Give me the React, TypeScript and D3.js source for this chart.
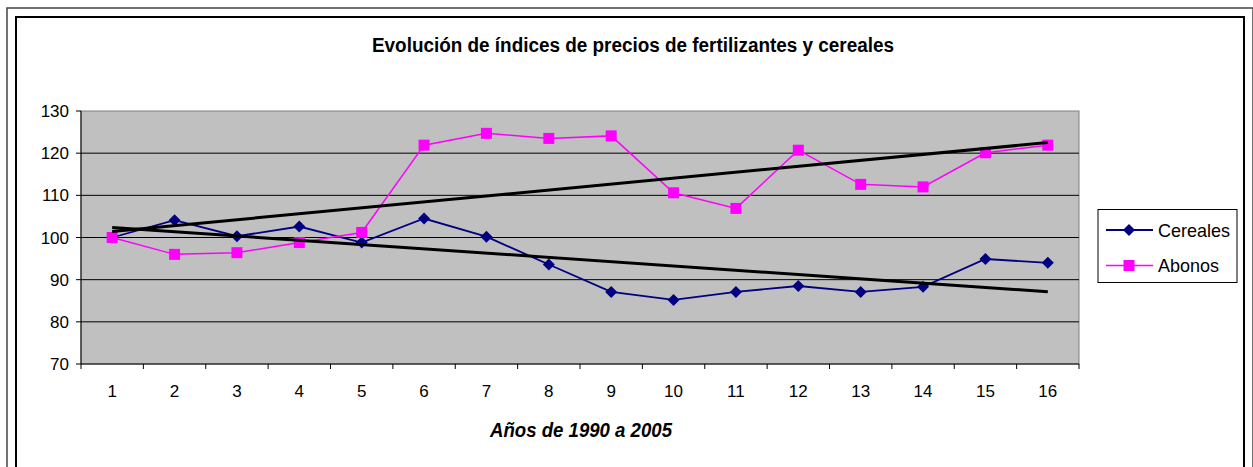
import React from "react";
import * as d3 from "d3";

const years = ["1","2","3","4","5","6","7","8","9","10","11","12","13","14","15","16"];
const cereales = [100, 104.1, 100.3, 102.6, 98.8, 104.5, 100.2, 93.6, 87.1, 85.2, 87.1, 88.5, 87.1, 88.3, 94.9, 94.0];
const abonos = [100, 96.0, 96.4, 98.8, 101.2, 121.9, 124.7, 123.5, 124.1, 110.6, 106.9, 120.7, 112.6, 112.0, 120.1, 121.9];
const yTicks = [70, 80, 90, 100, 110, 120, 130];
const titleText = "Evolución de índices de precios de fertilizantes y cereales";
const xAxisTitle = "Años de 1990 a 2005";
const seriesNames = ["Cereales", "Abonos"];

const FONT = "Arial, 'Liberation Sans', sans-serif";

function linReg(vals: number[]) {
  const xs = vals.map((_, i) => i + 1);
  const mx = d3.mean(xs)!;
  const my = d3.mean(vals)!;
  let num = 0, den = 0;
  xs.forEach((x, i) => { num += (x - mx) * (vals[i] - my); den += (x - mx) * (x - mx); });
  const slope = num / den;
  const b = my - slope * mx;
  return (x: number) => b + slope * x;
}

export default function App() {
  const W = 1253, H = 467;
  const plot = { left: 81, top: 111, right: 1079, bottom: 364 };
  const x = d3.scaleBand<string>().domain(years).range([plot.left, plot.right]).padding(0);
  const y = d3.scaleLinear().domain([70, 130]).range([plot.bottom, plot.top]);
  const cx = (i: number) => x(years[i])! + x.bandwidth() / 2;

  const line = d3.line<number>().x((_, i) => cx(i)).y((d) => y(d));
  const trendC = linReg(cereales);
  const trendA = linReg(abonos);
  const n = years.length;

  const diamond = (px: number, py: number, r = 6) =>
    `M${px},${py - r}L${px + r},${py}L${px},${py + r}L${px - r},${py}Z`;

  const boundaries = d3.range(n + 1).map((k) => plot.left + k * x.bandwidth());

  return (
    <svg width={W} height={H} style={{ position: "absolute", left: 0, top: 0, background: "#fff" }} fontFamily={FONT}>
      {/* outer frames */}
      <rect x={7} y={8} width={1246} height={470} fill="none" stroke="#444" strokeWidth={1.5} />
      <rect x={16} y={17} width={1228} height={460} fill="#fff" stroke="#000" strokeWidth={2} />

      {/* title */}
      <text x={633} y={52} textAnchor="middle" fontSize={20} fontWeight="bold" textLength={522} lengthAdjust="spacingAndGlyphs">{titleText}</text>

      {/* plot area */}
      <rect x={plot.left} y={plot.top} width={plot.right - plot.left} height={plot.bottom - plot.top} fill="#C0C0C0" stroke="#808080" strokeWidth={1} />
      {yTicks.slice(1, -1).map((t) => (
        <line key={t} x1={plot.left} x2={plot.right} y1={y(t)} y2={y(t)} stroke="#000" strokeWidth={1} />
      ))}

      {/* axes */}
      <line x1={plot.left} x2={plot.left} y1={plot.top} y2={plot.bottom} stroke="#000" strokeWidth={1} />
      <line x1={plot.left} x2={plot.right} y1={plot.bottom} y2={plot.bottom} stroke="#000" strokeWidth={1} />
      {yTicks.map((t) => (
        <g key={t}>
          <line x1={plot.left - 5} x2={plot.left} y1={y(t)} y2={y(t)} stroke="#000" strokeWidth={1} />
          <text x={69} y={y(t) + 6} textAnchor="end" fontSize={17}>{t}</text>
        </g>
      ))}
      {boundaries.map((bx, k) => (
        <line key={k} x1={bx} x2={bx} y1={plot.bottom} y2={plot.bottom + 5} stroke="#000" strokeWidth={1} />
      ))}
      {years.map((yr, i) => (
        <text key={yr} x={cx(i)} y={397} textAnchor="middle" fontSize={17}>{yr}</text>
      ))}
      <text x={581} y={437} textAnchor="middle" fontSize={20} fontWeight="bold" fontStyle="italic" textLength={182} lengthAdjust="spacingAndGlyphs">{xAxisTitle}</text>

      {/* series */}
      <path d={line(cereales)!} fill="none" stroke="#000080" strokeWidth={1.8} />
      <path d={line(abonos)!} fill="none" stroke="#FF00FF" strokeWidth={1.5} />
      {cereales.map((v, i) => (
        <path key={"c" + i} d={diamond(cx(i), y(v))} fill="#000080" />
      ))}
      {abonos.map((v, i) => (
        <rect key={"a" + i} x={cx(i) - 5.5} y={y(v) - 5.5} width={11} height={11} fill="#FF00FF" />
      ))}

      {/* trend lines */}
      <line x1={cx(0)} x2={cx(n - 1)} y1={y(trendC(1))} y2={y(trendC(n))} stroke="#000" strokeWidth={3} />
      <line x1={cx(0)} x2={cx(n - 1)} y1={y(trendA(1))} y2={y(trendA(n))} stroke="#000" strokeWidth={3} />

      {/* legend */}
      <rect x={1098} y={209.5} width={139} height={73} fill="#fff" stroke="#000" strokeWidth={1} />
      <line x1={1106} x2={1153} y1={230} y2={230} stroke="#000080" strokeWidth={1.8} />
      <path d={diamond(1129, 230)} fill="#000080" />
      <text x={1158} y={236.5} fontSize={19} textLength={72} lengthAdjust="spacingAndGlyphs">{seriesNames[0]}</text>
      <line x1={1106} x2={1153} y1={265.5} y2={265.5} stroke="#FF00FF" strokeWidth={1.5} />
      <rect x={1123.5} y={260} width={11} height={11} fill="#FF00FF" />
      <text x={1158} y={272} fontSize={19} textLength={61} lengthAdjust="spacingAndGlyphs">{seriesNames[1]}</text>
    </svg>
  );
}
